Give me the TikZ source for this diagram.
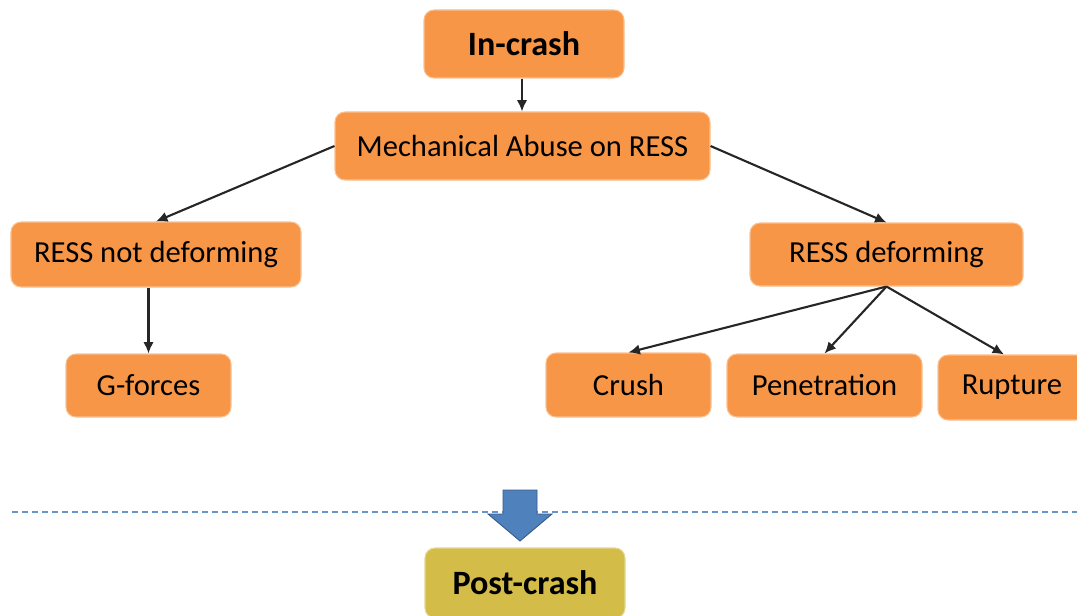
\documentclass[tikz,border=0pt]{standalone}
\usepackage{fontspec}
\setmainfont{Carlito}
\usetikzlibrary{arrows.meta, positioning, calc}

\definecolor{boxorange}{HTML}{F79646}
\definecolor{boxolive}{HTML}{D3BD48}
\definecolor{blockblue}{HTML}{4F81BD}

\tikzset{
    box/.style={rectangle, rounded corners=0.2cm, draw=boxorange!60!white, line width=0.6pt,
        fill=boxorange, text=black, inner sep=2pt, font=\fontsize{17.4}{20}\selectfont},
    phase/.style={box, minimum width=4cm, font=\fontsize{19.4}{22}\selectfont\bfseries},
    link/.style={-{Latex[length=6.5pt,width=6pt]}, line width=1.2pt, black!85}
}

\begin{document}
\begin{tikzpicture}
    \useasboundingbox (0,0) rectangle (21.54,-12.3);
    \clip (0,0) rectangle (21.54,-12.3);

    % In-crash part
    \node[phase, minimum height=1.36cm] (incrash) at (10.48,-0.88) {In-crash};
    \node[box, minimum width=7.5cm, minimum height=1.36cm] (abuse) at (10.45,-2.92) {Mechanical Abuse on RESS};

    % left branch
    \node[box, minimum width=5.8cm, minimum height=1.3cm] (notdef) at (3.12,-5.09) {RESS not deforming};
    \node[box, minimum width=3.3cm, minimum height=1.26cm] (gforce) at (2.97,-7.71) {G-forces};

    % right branch
    \node[box, minimum width=5.46cm, minimum height=1.26cm] (deform) at (17.73,-5.09) {RESS deforming};
    \node[box, minimum width=3.3cm, minimum height=1.28cm] (crush) at (12.57,-7.7) {Crush};
    \node[box, minimum width=3.9cm, minimum height=1.26cm] (pen) at (16.49,-7.71) {Penetration};
    \node[box, minimum width=2.96cm, minimum height=1.3cm] (rup) at (20.24,-7.75) {Rupture};

    % Post-crash part
    \node[phase, fill=boxolive, draw=boxolive!60!white, minimum height=1.4cm] (post) at (10.5,-11.66) {Post-crash};

    % Connections
    \draw[link] ($(incrash.south)+(-0.04,0)$) -- ($(incrash.south |- abuse.north)+(-0.04,0)$);
    \draw[link] (abuse.west) -- (notdef.north);
    \draw[link] (abuse.east) -- (deform.north);
    \draw[link] (gforce.north |- notdef.south) -- (gforce.north);
    \draw[link] (deform.south) -- (crush.north);
    \draw[link] (deform.south) -- (pen.north);
    \draw[link] (deform.south) -- ($(rup.north)+(-0.16,0)$);

    % border line and block arrow
    \coordinate (lineL) at (0.24,-10.24);
    \coordinate (lineR) at (21.54,-10.24);
    \draw[blockblue!85, line width=1.2pt, dash pattern=on 0.12cm off 0.08cm] (lineL) -- (lineR);
    \fill[blockblue, draw=blockblue!70!black, line width=0.5pt]
        (10.06,-9.8) -- (10.74,-9.8) -- (10.74,-10.28) -- (11.04,-10.28) -- (10.4,-10.82)
        -- (9.76,-10.28) -- (10.06,-10.28) -- cycle;
\end{tikzpicture}
\end{document}
